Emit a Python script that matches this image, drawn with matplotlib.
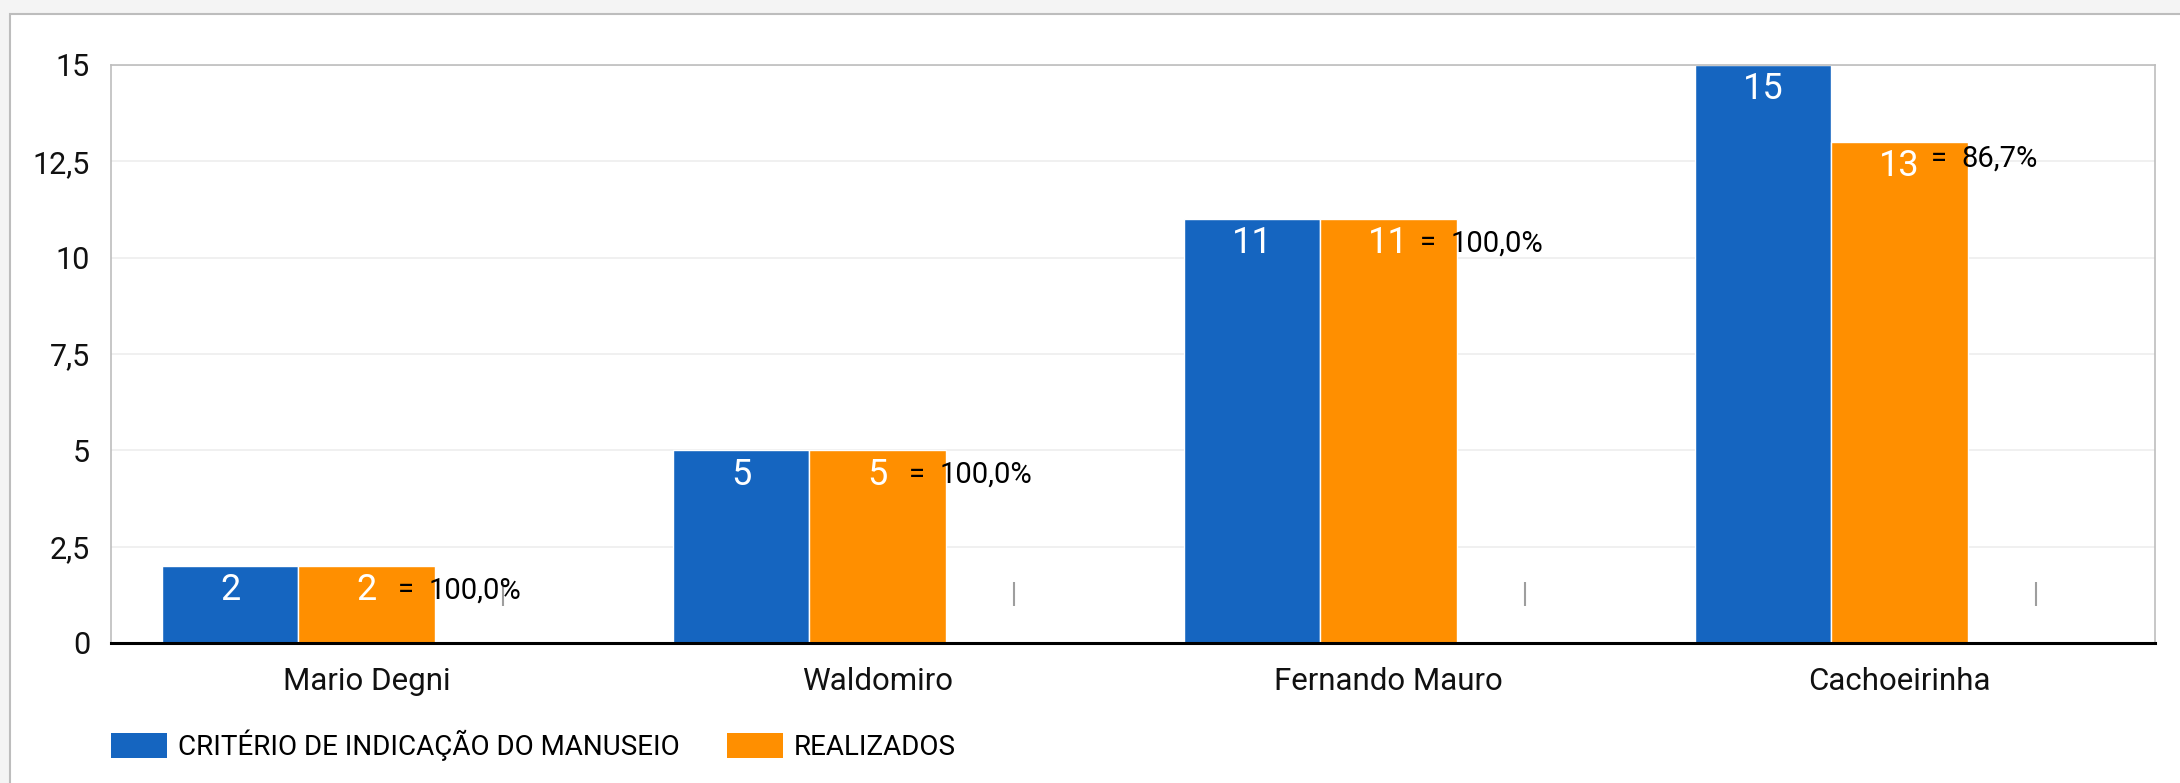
import numpy as np
import matplotlib.pyplot as plt
from matplotlib.patches import Rectangle, Patch
from matplotlib.ticker import FuncFormatter

plt.rcParams['font.family'] = ['Roboto', 'DejaVu Sans']

# Dados do gráfico
unidades = ["Mario Degni", "Waldomiro", "Fernando Mauro", "Cachoeirinha"]
criterio = [2, 5, 11, 15]
realizados = [2, 5, 11, 13]
series = ["CRITÉRIO DE INDICAÇÃO DO MANUSEIO", "REALIZADOS"]

azul = "#1565c0"
laranja = "#ff8f00"

fig = plt.figure(figsize=(21.8, 7.83), dpi=100)
fig.patch.set_facecolor("#f4f4f4")
# cartão branco com borda cinza
fig.add_artist(Rectangle((10 / 2180, -0.05), 1.05, 1 - 14 / 783 + 0.05,
                         transform=fig.transFigure, facecolor="white",
                         edgecolor="#bdbdbd", linewidth=1.5, zorder=0))

ax = fig.add_axes([111 / 2180, 1 - 643 / 783, (2155 - 111) / 2180, (643 - 65) / 783])
ax.set_facecolor("white")
x = np.arange(len(unidades))
w = 0.8 / 3
ax.bar(x - w, criterio, w, color=azul, edgecolor="white", linewidth=1)
ax.bar(x, realizados, w, color=laranja, edgecolor="white", linewidth=1)

# marcadores da terceira série (vazia)
ax.vlines(x + w, 0.95, 1.58, color="#9e9e9e", linewidth=1.5, zorder=3)

# rótulos de valor
for xi, v in zip(x - w, criterio):
    ax.annotate(str(v), (xi, v), xytext=(0, -17.5), textcoords="offset points",
                ha="center", va="center", color="white", fontsize=26)
for xi, v, c in zip(x, realizados, criterio):
    ax.annotate(str(v), (xi, v), xytext=(0, -17.5), textcoords="offset points",
                ha="center", va="center", color="white", fontsize=26)
    pct = f"{v / c * 100:.1f}".replace(".", ",") + "%"
    dy = -17.5 if v == c else -12
    ax.annotate("=", (xi + 0.078, v), xytext=(0, dy), textcoords="offset points",
                ha="center", va="center", color="black", fontsize=21, zorder=4)
    ax.annotate(pct, (xi + 0.121, v), xytext=(0, dy), textcoords="offset points",
                ha="left", va="center", color="black", fontsize=21, zorder=4)

ax.set_xlim(-0.5, 3.5)
ax.set_ylim(0, 15)
ax.set_yticks(np.arange(0, 15.1, 2.5))
ax.yaxis.set_major_formatter(FuncFormatter(lambda v, _: f"{v:g}".replace(".", ",")))
ax.set_xticks(x)
ax.set_xticklabels(unidades)
ax.tick_params(axis="y", length=0, labelsize=22, pad=15, labelcolor="#111111")
ax.tick_params(axis="x", length=0, labelsize=22.5, pad=17, labelcolor="#111111")
ax.yaxis.grid(True, color="#eeeeee", linewidth=1.2)
ax.set_axisbelow(True)
for s in ["left", "top", "right"]:
    ax.spines[s].set_color("#bdbdbd")
    ax.spines[s].set_linewidth(1.2)
ax.spines["bottom"].set_color("black")
ax.spines["bottom"].set_linewidth(2.2)

handles = [Patch(facecolor=azul), Patch(facecolor=laranja)]
fig.legend(handles, series, loc="center left", bbox_to_anchor=(111 / 2180, 1 - 745 / 783),
           ncol=2, frameon=False, fontsize=20, handlelength=2.0, handleheight=1.0,
           handletextpad=0.4, columnspacing=1.73, borderpad=0, borderaxespad=0)

fig.savefig("out.png", dpi=100)
